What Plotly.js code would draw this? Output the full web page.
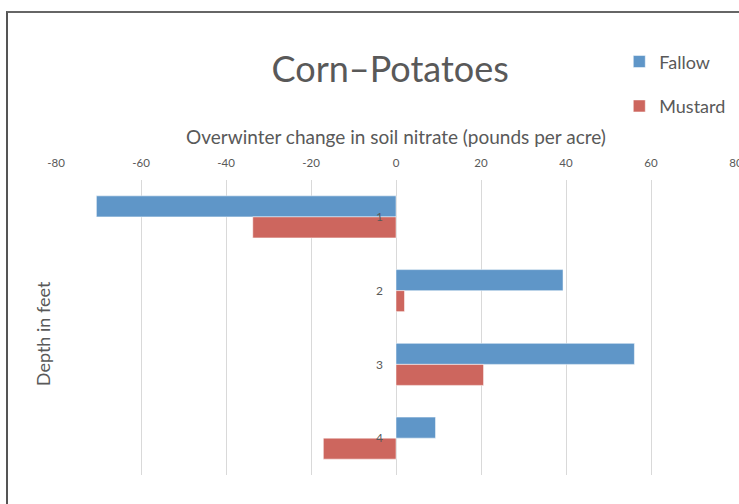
<!DOCTYPE html>
<html>
<head>
<meta charset="utf-8">
<script src="https://cdn.plot.ly/plotly-3.0.1.min.js"></script>
<style>
  html, body { margin: 0; padding: 0; background: #ffffff; }
  #wrap { position: relative; width: 739px; height: 504px; overflow: hidden; }
  #chart { position: absolute; left: 0; top: 0; width: 739px; height: 504px; }
  #frame { position: absolute; left: 6px; top: 11px; width: 900px; height: 700px;
           border-left: 2px solid #555555; border-top: 2px solid #666666; pointer-events: none; }
</style>
</head>
<body>
<div id="wrap">
  <div id="chart"></div>
  <div id="frame"></div>
</div>
<script>
const depths = ['1', '2', '3', '4'];
const fallow = [-70.5, 39.3, 56.1, 9.3];
const mustard = [-33.7, 2.0, 20.6, -17.1];
const xTicks = [-80, -60, -40, -20, 0, 20, 40, 60, 80];

const FONT = 'Lato, "Open Sans", sans-serif';
const GREY = '#595959';

const traces = [
  {
    type: 'bar', orientation: 'h', name: 'Fallow',
    y: depths, x: fallow,
    marker: { color: '#5f96c8', line: { color: 'rgba(255,255,255,0.5)', width: 1 } },
    legendgroup: 'a', hoverinfo: 'x+name'
  },
  {
    type: 'bar', orientation: 'h', name: 'Mustard',
    y: depths, x: mustard,
    marker: { color: '#cd665e', line: { color: 'rgba(255,255,255,0.5)', width: 1 } },
    legendgroup: 'b', hoverinfo: 'x+name'
  }
];

const layout = {
  width: 739, height: 504,
  margin: { l: 56, r: 3, t: 180, b: 29, autoexpand: false },
  paper_bgcolor: '#ffffff', plot_bgcolor: '#ffffff',
  font: { family: FONT, color: GREY, size: 11 },
  barmode: 'group', bargap: 0.43, bargroupgap: 0,
  showlegend: true,
  title: {
    text: 'Corn–Potatoes',
    font: { family: FONT, size: 36, color: GREY },
    xref: 'container', x: 0.528, xanchor: 'center',
    yref: 'container', y: 0.862, yanchor: 'middle'
  },
  legend: {
    xref: 'container', yref: 'container',
    x: 0.838, xanchor: 'left', y: 0.914, yanchor: 'top',
    font: { family: FONT, size: 18, color: GREY },
    tracegroupgap: 18, traceorder: 'grouped',
    bgcolor: 'rgba(0,0,0,0)'
  },
  xaxis: {
    side: 'top', range: [-80, 80],
    tickvals: xTicks, ticktext: xTicks.map(String),
    ticklabeloverflow: 'allow',
    ticklabelstandoff: 10,
    showgrid: true, gridcolor: '#d9d9d9', gridwidth: 1,
    zeroline: true, zerolinecolor: '#d9d9d9', zerolinewidth: 1,
    showline: false, ticks: '',
    tickfont: { family: FONT, size: 11.5, color: GREY },
    automargin: false,
    title: {
      text: 'Overwinter change in soil nitrate (pounds per acre)',
      font: { family: FONT, size: 19, color: GREY },
      standoff: 6
    }
  },
  yaxis: {
    type: 'category', categoryorder: 'array', categoryarray: depths,
    autorange: 'reversed',
    anchor: 'free', position: 0.5,
    showgrid: false, zeroline: false, showline: false, ticks: '',
    ticklabelstandoff: 13,
    tickfont: { family: FONT, size: 12, color: GREY },
    automargin: false
  },
  annotations: [
    {
      text: 'Depth in feet', textangle: -90,
      xref: 'paper', yref: 'paper', x: -0.018, y: 0.48,
      xanchor: 'center', yanchor: 'middle', showarrow: false,
      font: { family: FONT, size: 18, color: GREY }
    }
  ]
};

Plotly.newPlot('chart', traces, layout, { staticPlot: true, displayModeBar: false });
</script>
</body>
</html>
